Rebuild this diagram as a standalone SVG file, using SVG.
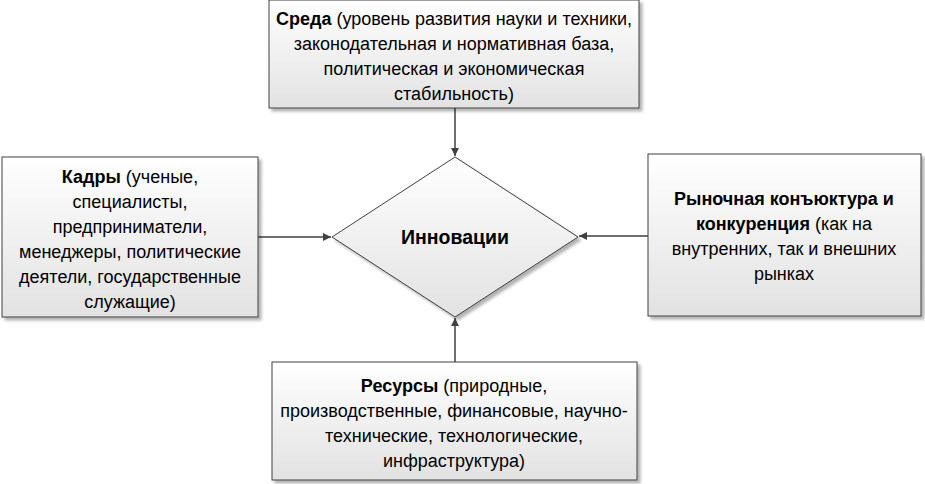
<svg xmlns="http://www.w3.org/2000/svg" width="925" height="484" viewBox="0 0 925 484">
<style>
.b{stroke:#404040;stroke-width:1;fill:url(#g);filter:url(#s)}
text{font-family:"Liberation Sans",Arial,sans-serif;font-size:18px;fill:#000;text-anchor:middle}
.h{font-weight:bold}
.c{stroke:#404040;stroke-width:1.5;fill:none;marker-end:url(#a)}
</style>
<defs>
<linearGradient id="g" x1="0" y1="0" x2="0" y2="1"><stop offset="0" stop-color="#ffffff"/><stop offset="1" stop-color="#e2e2e2"/></linearGradient>
<filter id="s" x="-5%" y="-5%" width="115%" height="115%"><feDropShadow dx="3" dy="3" stdDeviation="1.5" flood-color="#000" flood-opacity="0.3"/></filter>
<marker id="a" viewBox="0 0 10 10" refX="10" refY="5" markerWidth="8" markerHeight="8" markerUnits="userSpaceOnUse" orient="auto"><path d="M0,0L10,5L0,10z" fill="#404040"/></marker>
</defs>
<g id="conn">
<line class="c" x1="455" y1="108" x2="455" y2="156"/>
<line class="c" x1="258" y1="237" x2="331" y2="237"/>
<line class="c" x1="648" y1="236" x2="579" y2="236"/>
<line class="c" x1="455" y1="362" x2="455" y2="318"/>
</g>
<g id="innov"><polygon class="b" points="455,157 578,237 455,317 332,237"/><text x="455" y="244" class="h" style="font-size:19.5px">Инновации</text></g>
<g id="sreda"><rect class="b" x="269" y="0" width="370" height="108"/>
<text x="454" y="25"><tspan class="h">Среда</tspan> (уровень развития науки и техники,</text>
<text x="454" y="50">законодательная и нормативная база,</text>
<text x="454" y="75">политическая и экономическая</text>
<text x="454" y="100">стабильность)</text></g>
<g id="kadry"><rect class="b" x="2" y="157" width="256" height="160"/>
<text x="130" y="183"><tspan class="h">Кадры</tspan> (ученые,</text>
<text x="130" y="208">специалисты,</text>
<text x="130" y="233">предприниматели,</text>
<text x="130" y="258">менеджеры, политические</text>
<text x="130" y="283">деятели, государственные</text>
<text x="130" y="308">служащие)</text></g>
<g id="rynok"><rect class="b" x="648" y="154" width="273" height="162"/>
<text x="784" y="205" class="h">Рыночная конъюктура и</text>
<text x="784" y="230"><tspan class="h">конкуренция</tspan> (как на</text>
<text x="784" y="255">внутренних, так и внешних</text>
<text x="784" y="280">рынках</text></g>
<g id="resursy"><rect class="b" x="272" y="362" width="365" height="118"/>
<text x="454" y="392"><tspan class="h">Ресурсы</tspan> (природные,</text>
<text x="454" y="417">производственные, финансовые, научно-</text>
<text x="454" y="442">технические, технологические,</text>
<text x="454" y="467">инфраструктура)</text></g>
</svg>
